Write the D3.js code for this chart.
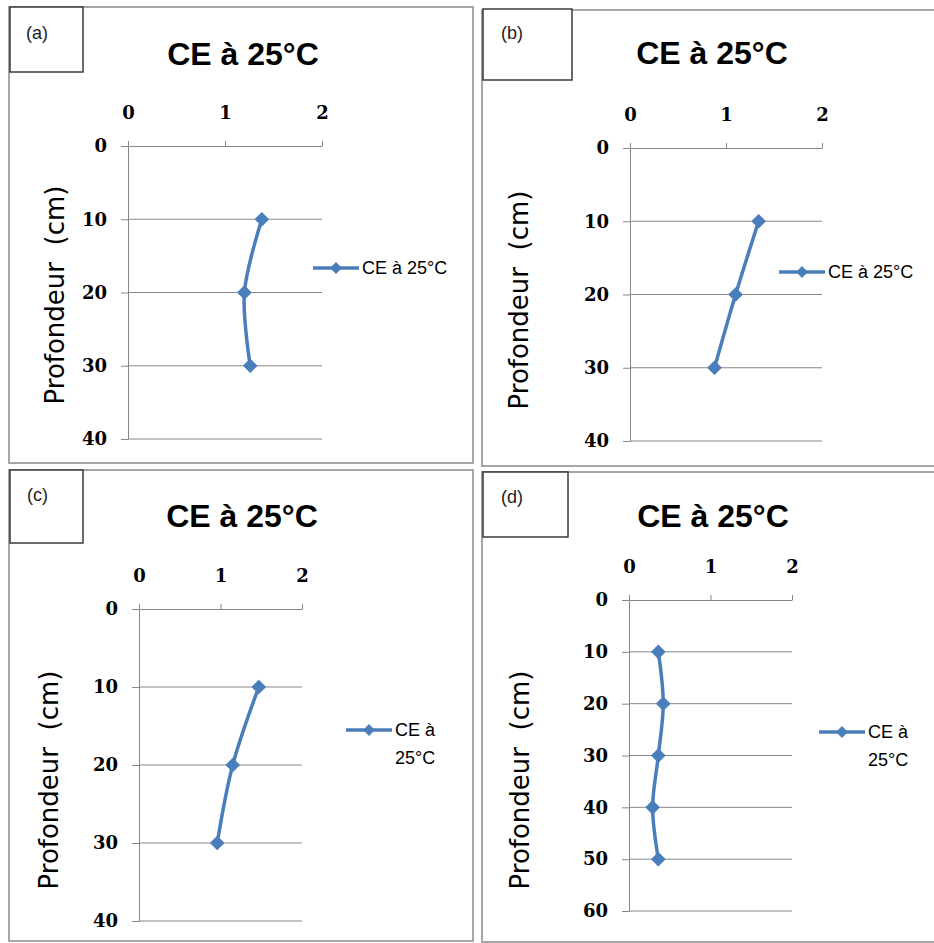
<!DOCTYPE html>
<html>
<head>
<meta charset="utf-8">
<script src="https://cdn.jsdelivr.net/npm/d3@7"></script>
<style>
  html, body { margin: 0; padding: 0; background: #fff; }
  svg { display: block; }
</style>
</head>
<body>
<svg id="chart" width="934" height="943"></svg>
<script>
// ---------------- DATA ----------------
const panelLabels = ["(a)", "(b)", "(c)", "(d)"];
const chartTitle = "CE à 25°C";
const seriesName = "CE à 25°C";
const yAxisTitle = "Profondeur  (cm)";
const xTicks = [0, 1, 2];
const yTicksABC = [0, 10, 20, 30, 40];
const yTicksD = [0, 10, 20, 30, 40, 50, 60];

const depthA = [10, 20, 30];
const ceA = [1.38, 1.20, 1.26];
const depthB = [10, 20, 30];
const ceB = [1.34, 1.10, 0.88];
const depthC = [10, 20, 30];
const ceC = [1.47, 1.15, 0.96];
const depthD = [10, 20, 30, 40, 50];
const ceD = [0.36, 0.42, 0.36, 0.29, 0.36];

// ---------------- LAYOUT ----------------
const layout = [
  { frame: [9, 7, 473, 463], box: [10, 7, 83, 72], lab: [26, 33],
    titleX: 243, titleY: 65, plot: [128, 322, 146, 439], axisTitle: [55, 295],
    legend: { x: 313, y: 268, wrap: false } },
  { frame: [482, 10, 945, 466], box: [483, 9, 572, 80], lab: [501, 33],
    titleX: 712, titleY: 64, plot: [630, 822, 148, 441], axisTitle: [519, 300],
    legend: { x: 779, y: 272, wrap: false } },
  { frame: [9, 470, 473, 941], box: [10, 470, 83, 543], lab: [27, 495],
    titleX: 242, titleY: 527, plot: [139, 302, 609, 921], axisTitle: [49, 780],
    legend: { x: 346, y: 730, wrap: true } },
  { frame: [482, 472, 945, 942], box: [483, 472, 568, 537], lab: [501, 497],
    titleX: 713, titleY: 527, plot: [629, 792, 600, 911], axisTitle: [520, 780],
    legend: { x: 819, y: 732, wrap: true } }
];

const panelData = [
  { depth: depthA, ce: ceA, yTicks: yTicksABC },
  { depth: depthB, ce: ceB, yTicks: yTicksABC },
  { depth: depthC, ce: ceC, yTicks: yTicksABC },
  { depth: depthD, ce: ceD, yTicks: yTicksD }
];

const BLUE = "#4a7ebb";
const AXIS = "#868686";
const fmt = d3.format("d");

const svg = d3.select("#chart");

panelData.forEach((pd, i) => {
  const L = layout[i];
  const g = svg.append("g");

  // outer frame
  g.append("rect")
    .attr("x", L.frame[0]).attr("y", L.frame[1])
    .attr("width", L.frame[2] - L.frame[0]).attr("height", L.frame[3] - L.frame[1])
    .attr("fill", "#fff").attr("stroke", "#a6a6a6").attr("stroke-width", 2);

  // label box
  g.append("rect")
    .attr("x", L.box[0]).attr("y", L.box[1])
    .attr("width", L.box[2] - L.box[0]).attr("height", L.box[3] - L.box[1])
    .attr("fill", "#fff").attr("stroke", "#3a3a3a").attr("stroke-width", 1.5);
  g.append("text")
    .attr("x", L.lab[0]).attr("y", L.lab[1]).attr("dy", "0.35em")
    .attr("font-family", "Liberation Sans, Arial, sans-serif")
    .attr("font-size", 18).attr("fill", "#222")
    .text(panelLabels[i]);

  // title
  g.append("text")
    .attr("x", L.titleX).attr("y", L.titleY)
    .attr("text-anchor", "middle")
    .attr("font-family", "Liberation Sans, Arial, sans-serif")
    .attr("font-weight", "bold").attr("font-size", 32).attr("fill", "#000")
    .text(chartTitle);

  const [x0, x1, y0, y1] = L.plot;
  const x = d3.scaleLinear().domain([0, 2]).range([x0, x1]);
  const yMax = pd.yTicks[pd.yTicks.length - 1];
  const y = d3.scaleLinear().domain([0, yMax]).range([y0, y1]);

  // gridlines
  g.append("g").selectAll("line")
    .data(pd.yTicks.filter(t => t > 0))
    .join("line")
    .attr("x1", x0).attr("x2", x1)
    .attr("y1", d => y(d)).attr("y2", d => y(d))
    .attr("stroke", AXIS).attr("stroke-width", 1);

  // y axis (left)
  const yAx = g.append("g")
    .attr("transform", `translate(${x0},0)`)
    .call(d3.axisLeft(y).tickValues(pd.yTicks).tickFormat(fmt)
      .tickSize(7).tickSizeOuter(0).tickPadding(14));
  yAx.select(".domain").attr("stroke", AXIS);
  yAx.selectAll(".tick line").attr("stroke", AXIS);
  yAx.selectAll(".tick text")
    .attr("font-family", "DejaVu Serif, serif").attr("font-weight", "bold")
    .attr("font-size", 18).attr("fill", "#000");

  // x axis (top)
  const xAx = g.append("g")
    .attr("transform", `translate(0,${y0})`)
    .call(d3.axisTop(x).tickValues(xTicks).tickFormat(fmt)
      .tickSize(5).tickSizeOuter(0).tickPadding(22));
  xAx.select(".domain").attr("stroke", AXIS);
  xAx.selectAll(".tick line").attr("stroke", AXIS);
  xAx.selectAll(".tick text")
    .attr("font-family", "DejaVu Serif, serif").attr("font-weight", "bold")
    .attr("font-size", 18).attr("fill", "#000");

  // axis title
  g.append("text")
    .attr("transform", `translate(${L.axisTitle[0]},${L.axisTitle[1]}) rotate(-90)`)
    .attr("text-anchor", "middle").attr("dy", "0.35em")
    .attr("font-family", "DejaVu Sans, sans-serif")
    .attr("font-size", 26).attr("fill", "#000")
    .style("white-space", "pre")
    .text(yAxisTitle);

  // data line
  const pts = pd.depth.map((dv, k) => ({ depth: dv, ce: pd.ce[k] }));
  const line = d3.line()
    .x(d => x(d.ce)).y(d => y(d.depth))
    .curve(d3.curveCatmullRom.alpha(0.5));
  g.append("path").datum(pts)
    .attr("d", line).attr("fill", "none")
    .attr("stroke", BLUE).attr("stroke-width", 3.5).attr("stroke-linejoin", "round");

  const sym = d3.symbol().type(d3.symbolSquare).size(88);
  g.append("g").selectAll("path")
    .data(pts).join("path")
    .attr("d", sym)
    .attr("transform", d => `translate(${x(d.ce)},${y(d.depth)}) rotate(45)`)
    .attr("fill", BLUE).attr("stroke", BLUE).attr("stroke-width", 1);

  // legend
  const lg = g.append("g").attr("transform", `translate(${L.legend.x},${L.legend.y})`);
  lg.append("line").attr("x1", 0).attr("x2", 46).attr("y1", 0).attr("y2", 0)
    .attr("stroke", BLUE).attr("stroke-width", 3.5);
  lg.append("path").attr("d", d3.symbol().type(d3.symbolSquare).size(55)())
    .attr("transform", "translate(23,0) rotate(45)")
    .attr("fill", BLUE).attr("stroke", BLUE);
  const lt = lg.append("text")
    .attr("x", 49).attr("y", 0)
    .attr("font-family", "Liberation Sans, Arial, sans-serif")
    .attr("font-size", 18).attr("fill", "#000");
  if (L.legend.wrap) {
    const words = seriesName.split(" ");
    lt.append("tspan").attr("x", 49).attr("dy", "0.35em").text(words.slice(0, 2).join(" "));
    lt.append("tspan").attr("x", 49).attr("dy", "1.55em").text(words.slice(2).join(" "));
  } else {
    lt.attr("dy", "0.35em").text(seriesName);
  }
});
</script>
</body>
</html>
